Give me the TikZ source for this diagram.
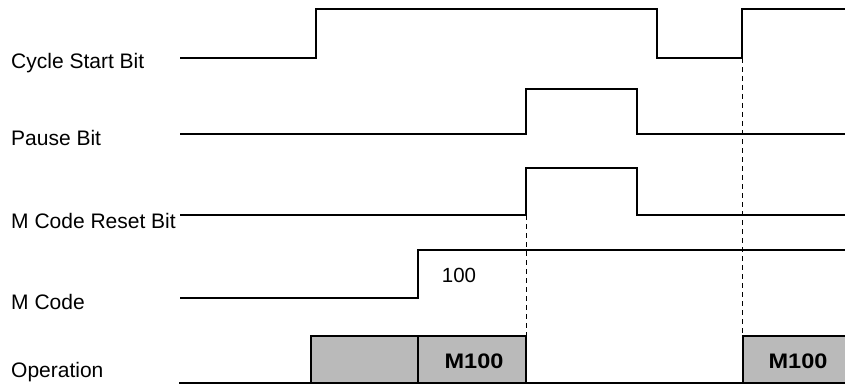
\documentclass[tikz,border=0pt]{standalone}
\usepackage{fontspec}
\setmainfont{Liberation Sans}
\newfontfamily\widebold[FakeStretch=1.12]{Liberation Sans Bold}
\begin{document}
\begin{tikzpicture}[x=1pt,y=-1pt,
  sig/.style={line width=1.6pt,line cap=rect},
  guide/.style={line width=0.9pt,dash pattern=on 5pt off 4pt},
  lbl/.style={anchor=base west,inner sep=0pt,font=\fontsize{21}{25}\selectfont},
  val/.style={anchor=base,inner sep=0pt,font=\fontsize{20.5}{25}\selectfont},
  opbox/.style={draw,line width=1.6pt,fill=black!27},
  optext/.style={anchor=base,inner sep=0pt,font=\fontsize{21}{25}\widebold}]
\useasboundingbox (0,0) rectangle (845,385);
% labels
\node[lbl] (l1) at (11,69) {Cycle Start Bit};
\node[lbl] (l2) at (11,146) {Pause Bit};
\node[lbl] (l3) at (11,228) {M Code Reset Bit};
\node[lbl] (l4) at (11,309) {M Code};
\node[lbl] (l5) at (11,377) {Operation};
% guides
\coordinate (g1a) at (526,215);
\coordinate (g1b) at (526,336);
\coordinate (g2a) at (742,58);
\coordinate (g2b) at (742,336);
\draw[guide] (g1a) -- (g1b);
\draw[guide] (g2a) -- (g2b);
% Cycle start
\draw[sig] (181,58) -- (316,58) -- (316,9) -- (657,9) -- (657,58) -- (742,58) -- (742,9) -- (845,9);
% Pause bit
\draw[sig] (181,134) -- (526,134) -- (526,89) -- (637,89) -- (637,134) -- (845,134);
% M code reset bit
\draw[sig] (181,215) -- (526,215) -- (526,168) -- (637,168) -- (637,215) -- (845,215);
% M code
\draw[sig] (181,298) -- (418,298) -- (418,250) -- (845,250);
\node[val] (v100) at (459,282) {100};
% Operation
\draw[opbox] (311,383) rectangle (418,336);
\draw[opbox] (418,383) rectangle (526,336);
\draw[opbox] (743,383) rectangle (846,336);
\node[optext] (m1) at (474,368) {M100};
\node[optext] (m2) at (798,368) {M100};
\draw[sig] (180,383) -- (845,383);
\end{tikzpicture}
\end{document}
